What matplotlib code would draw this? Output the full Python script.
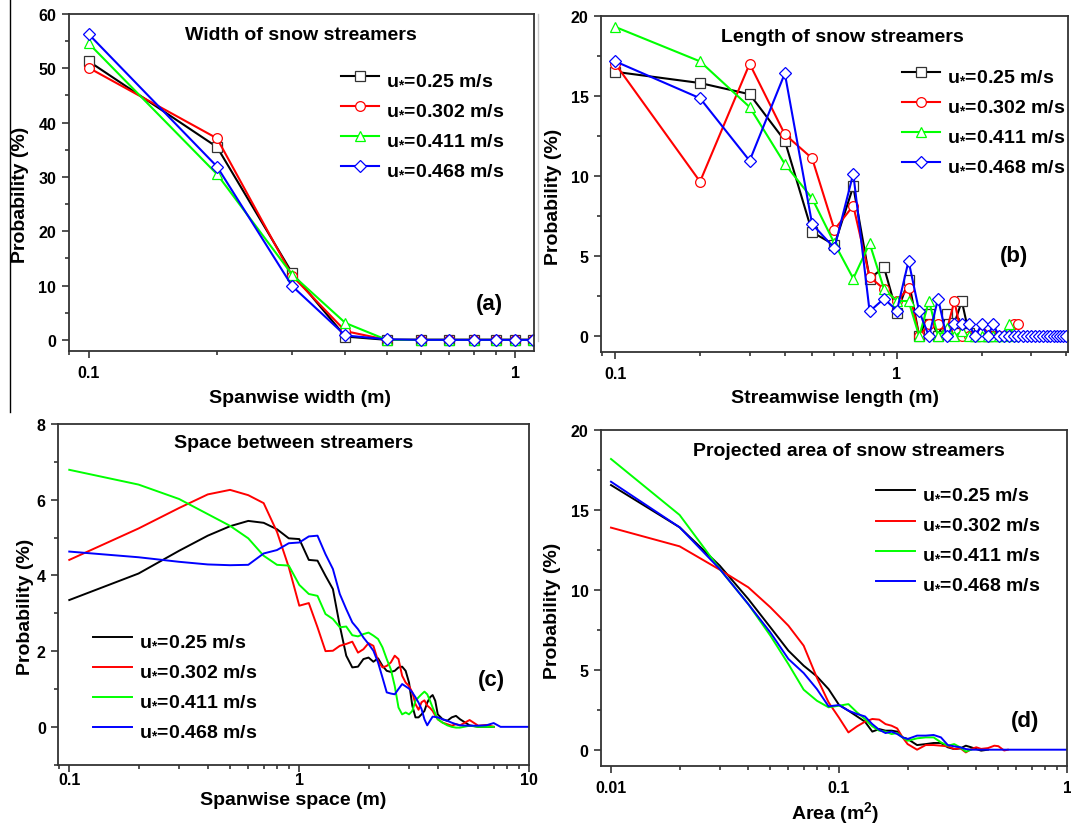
import numpy as np
import matplotlib
matplotlib.use('Agg')
import matplotlib.pyplot as plt
from matplotlib.ticker import LogLocator, NullFormatter, MultipleLocator
from matplotlib.lines import Line2D

plt.rcParams['font.family'] = ['Liberation Sans', 'DejaVu Sans']
plt.rcParams['font.weight'] = 'bold'
plt.rcParams['mathtext.fontset'] = 'custom'
plt.rcParams['mathtext.rm'] = 'Liberation Sans:bold'
plt.rcParams['mathtext.it'] = 'Liberation Sans:bold'
plt.rcParams['mathtext.bf'] = 'Liberation Sans:bold'

labels = ['u$_{*}$=0.25 m/s', 'u$_{*}$=0.302 m/s', 'u$_{*}$=0.411 m/s', 'u$_{*}$=0.468 m/s']
colors = ['#000000', '#ff0000', '#00ff00', '#0000ff']
edge_cols = ['#333333', '#ff0000', '#00ff00', '#0000ff']
markers = ['s', 'o', '^', 'D']

# (a) width of snow streamers
width_x = [0.1, 0.2, 0.3, 0.4, 0.5, 0.6, 0.7, 0.8, 0.9, 1.0, 1.1]
width_025 = [51.3, 35.5, 12.3, 0.6, 0, 0, 0, 0, 0, 0, 0]
width_0302 = [50.1, 37.1, 11.8, 1.6, 0, 0, 0, 0, 0, 0, 0]
width_0411 = [54.6, 30.5, 12.0, 3.1, 0, 0, 0, 0, 0, 0, 0]
width_0468 = [56.3, 31.9, 9.9, 0.8, 0.1, 0, 0, 0, 0, 0, 0]

# (b) length of snow streamers
length_x = [0.1, 0.2, 0.3, 0.4, 0.5, 0.6, 0.7, 0.8, 0.9, 1.0,
            1.1, 1.2, 1.3, 1.4, 1.5, 1.6, 1.7, 1.8, 1.9, 2.0,
            2.1, 2.2, 2.3, 2.4, 2.5, 2.6, 2.7, 2.8, 2.9, 3.0,
            3.1, 3.2, 3.3, 3.4, 3.5, 3.6, 3.7, 3.8, 3.9, 4.0]
length_025 = [16.5, 15.8, 15.1, 12.2, 6.5, 5.7, 9.35, 3.6, 4.3, 1.45,
              3.5, 0, 1.4, 0, 1.4, 0.8, 2.2, 0.2, 0, 0, 0, 0]
length_0302 = [17.0, 9.65, 17.0, 12.6, 11.1, 6.65, 8.15, 3.7, 2.95, 2.2,
               3.0, 0, 0.75, 0.75, 0.3, 2.2, 0, 0, 0, 0.2,
               0, 0, 0, 0, 0, 0.75, 0.75]
length_0411 = [19.3, 17.15, 14.3, 10.75, 8.6, 5.8, 3.6, 5.8, 2.95, 2.2,
               2.2, 0, 2.2, 0, 0.5, 0, 0.3, 0, 0, 0,
               0, 0, 0, 0, 0.75, 0]
length_0468 = [17.15, 14.85, 10.95, 16.4, 7.0, 5.5, 10.15, 1.55, 2.35, 1.6,
               4.7, 1.55, 0, 2.35, 0, 0.75, 0.75, 0.75, 0, 0.75,
               0, 0.75, 0, 0, 0, 0, 0, 0, 0, 0,
               0, 0, 0, 0, 0, 0, 0, 0, 0, 0]

# (c) space between streamers
space_x = [0.1, 0.2, 0.3, 0.4, 0.5, 0.6, 0.7, 0.8, 0.9, 1.0,
           1.1, 1.2, 1.3, 1.4, 1.5, 1.6, 1.7, 1.8, 1.9, 2.0,
           2.1, 2.2, 2.3, 2.4, 2.5, 2.6, 2.7, 2.8, 2.9, 3.0,
           3.1, 3.2, 3.3, 3.4, 3.5, 3.6, 3.7, 3.8, 3.9, 4.0,
           4.2, 4.4, 4.6, 4.8, 5.0, 5.5, 6.0, 6.5, 7.0, 7.5, 8.0, 9.0, 10.0]
space_025 = [3.35, 4.05, 4.65, 5.05, 5.3, 5.44, 5.39, 5.22, 4.98, 4.96,
             4.41, 4.39, 3.99, 3.64, 2.67, 1.88, 1.57, 1.59, 1.79, 1.83,
             1.72, 1.81, 1.61, 1.48, 1.45, 1.48, 1.57, 1.59, 1.48, 1.17,
             0.56, 0.25, 0.25, 0.33, 0.42, 0.64, 0.78, 0.84, 0.69, 0.33,
             0.2, 0.16, 0.25, 0.29, 0.2, 0.04, 0.0, 0.0, 0.0]
space_0302 = [4.41, 5.24, 5.78, 6.14, 6.26, 6.12, 5.91, 5.15, 4.22, 3.2,
              3.27, 2.63, 2.0, 2.01, 2.14, 2.19, 2.25, 1.96, 2.05, 2.21,
              2.14, 1.74, 1.57, 1.61, 1.70, 1.88, 1.79, 1.35, 1.17, 1.08,
              0.91, 0.6, 0.45, 0.65, 0.7, 0.56, 0.5, 0.42, 0.3, 0.2,
              0.11, 0.07, 0.03, 0.07, 0.04, 0.18, 0.03, 0.05, 0.0]
space_0411 = [6.79, 6.40, 6.02, 5.62, 5.31, 4.98, 4.52, 4.28, 4.26, 3.75,
              3.51, 3.46, 2.98, 2.85, 2.63, 2.65, 2.42, 2.39, 2.45, 2.49,
              2.41, 2.32, 2.10, 1.79, 1.52, 1.08, 0.51, 0.33, 0.38, 0.33,
              0.42, 0.69, 0.78, 0.86, 0.93, 0.86, 0.69, 0.51, 0.35, 0.2,
              0.11, 0.04, 0.0, -0.02, -0.02, 0.03, 0.0, 0.0, 0.0]
space_0468 = [4.63, 4.48, 4.36, 4.29, 4.27, 4.28, 4.58, 4.67, 4.85, 4.87,
              5.03, 5.05, 4.56, 4.17, 3.51, 3.11, 2.76, 2.58, 2.36, 2.19,
              2.01, 1.70, 1.30, 0.91, 0.88, 0.86, 1.0, 1.13, 1.07, 1.01,
              0.91, 0.78, 0.64, 0.47, 0.20, 0.04, 0.16, 0.27, 0.26, 0.25,
              0.2, 0.16, 0.11, 0.07, 0.04, 0.03, 0.03, 0.04, 0.1, 0.0, 0.0, 0.0, 0.0]

# (d) projected area of snow streamers
area_x = [0.01, 0.02, 0.03, 0.04, 0.05, 0.06, 0.07, 0.08, 0.09, 0.1,
          0.11, 0.12, 0.13, 0.14, 0.15, 0.16, 0.17, 0.18, 0.19, 0.2,
          0.22, 0.24, 0.26, 0.28, 0.3, 0.32, 0.34, 0.36, 0.38, 0.4,
          0.42, 0.45, 0.48, 0.5, 0.53, 0.55, 0.6, 0.7, 0.8, 0.9, 1.0]
area_025 = [16.54, 13.9, 11.5, 9.42, 7.65, 6.19, 5.25, 4.58, 3.79, 2.8,
            2.44, 2.08, 1.75, 1.13, 1.29, 1.19, 1.19, 1.13, 0.77, 0.67,
            0.29, 0.35, 0.42, 0.42, 0.15, 0.04, 0.08, 0.25, 0.15, 0.04,
            -0.06, 0.0]
area_0302 = [13.88, 12.71, 11.25, 10.15, 8.9, 7.75, 6.5, 4.5, 2.96, 2.0,
             1.08, 1.46, 1.75, 1.92, 1.88, 1.6, 1.5, 1.33, 0.77, 0.35,
             0.0, 0.29, 0.29, 0.25, 0.21, 0.04, 0.1, -0.17, 0.04, 0.15,
             0.05, 0.1, 0.25, 0.22, -0.05, 0.0]
area_0411 = [18.17, 14.67, 11.29, 9.1, 7.13, 5.35, 3.75, 3.06, 2.65, 2.75,
             2.85, 2.33, 1.92, 1.46, 1.19, 1.13, 0.98, 1.04, 0.77, 0.56,
             0.71, 0.77, 0.77, 0.46, 0.25, 0.35, 0.15, -0.12, 0.0]
area_0468 = [16.75, 13.9, 11.29, 9.1, 7.33, 5.67, 4.79, 3.79, 2.71, 2.79,
             2.44, 2.23, 2.08, 1.6, 1.25, 1.04, 1.13, 0.98, 0.77, 0.67,
             0.88, 0.88, 0.92, 0.77, 0.29, 0.21, 0.15, 0.04, 0.0, 0.0,
             0, 0, 0, 0, 0, 0, 0, 0, 0, 0, 0]

W, H = 1071, 828
fig = plt.figure(figsize=(W / 100, H / 100), dpi=100)


def px_axes(l, r, t, b):
    return fig.add_axes([l / W, 1 - b / H, (r - l) / W, (b - t) / H])


def style(ax, xlim, ylim, xt, xtl, ymaj, ymin, pad):
    ax.set_xscale('log')
    ax.set_xlim(*xlim)
    ax.set_ylim(*ylim)
    ax.set_xticks(xt, xtl)
    ax.xaxis.set_minor_locator(LogLocator(base=10, subs=np.arange(2, 10) * 1.0, numticks=30))
    ax.xaxis.set_minor_formatter(NullFormatter())
    ax.yaxis.set_major_locator(MultipleLocator(ymaj))
    ax.yaxis.set_minor_locator(MultipleLocator(ymin))
    for s in ax.spines.values():
        s.set_color('#333333')
        s.set_linewidth(1.3)
    ax.tick_params(which='both', direction='out', color='#333333', width=1.2,
                   labelsize=11.5)
    ax.tick_params(which='major', length=5)
    ax.tick_params(which='minor', length=3)
    ax.tick_params(axis='x', which='major', pad=pad)
    ax.tick_params(axis='y', which='major', pad=4)


def labels_text(ax, title, tpos, letter, lpos, xlabel, xlpos, ylpos):
    ax.text(tpos[0], tpos[1], title, transform=ax.transAxes, ha='center', va='center',
            fontsize=14, fontweight='bold')
    ax.text(lpos[0], lpos[1], letter, transform=ax.transAxes, ha='center', va='center',
            fontsize=16, fontweight='bold')
    ax.set_xlabel(xlabel, fontsize=14, fontweight='bold')
    ax.xaxis.set_label_coords(xlpos[0], xlpos[1])
    ax.xaxis.label.set_verticalalignment('center')
    ax.set_ylabel('Probability (%)', fontsize=14, fontweight='bold')
    ax.yaxis.set_label_coords(ylpos[0], ylpos[1])
    ax.yaxis.label.set_verticalalignment('center')


def legend(ax, anchor, handlelength):
    ax.legend(loc='center left', bbox_to_anchor=anchor, frameon=False, fontsize=14,
              handlelength=handlelength, handletextpad=0.35, labelspacing=0.64,
              borderpad=0, borderaxespad=0)


# (a)
ax = px_axes(68.7, 534, 15, 351.7)
for ys, c, ec, m, lab in zip([width_025, width_0302, width_0411, width_0468],
                             colors, edge_cols, markers, labels):
    ax.plot(width_x[:len(ys)], ys, color=c, lw=1.5, marker=m, ms=7 if m != 'D' else 6.5,
            mfc='white', mec=ec, mew=0.9, label=lab)
style(ax, (0.0898, 1.107), (-2, 60), [0.1, 1], ['0.1', '1'], 10, 5, 5)
labels_text(ax, 'Width of snow streamers', (0.498, 0.94), '(a)', (0.905, 0.139),
            'Spanwise width (m)', (0.498, -0.138), (-0.1036, 0.465))
legend(ax, (0.585, 0.676), 1.95)

# (b)
ax = px_axes(601, 1068, 16.7, 353.3)
for ys, c, ec, m, lab in zip([length_025, length_0302, length_0411, length_0468],
                             colors, edge_cols, markers, labels):
    ax.plot(length_x[:len(ys)], ys, color=c, lw=1.5, marker=m, ms=7 if m != 'D' else 6.5,
            mfc='white', mec=ec, mew=0.9, label=lab)
style(ax, (0.089, 4.05), (-1, 20), [0.1, 1], ['0.1', '1'], 5, 2.5, 5)
labels_text(ax, 'Length of snow streamers', (0.517, 0.939), '(b)', (0.885, 0.287),
            'Streamwise length (m)', (0.502, -0.134), (-0.101, 0.465))
legend(ax, (0.645, 0.693), 1.95)

# (c)
ax = px_axes(58.3, 529.3, 425, 765.7)
for ys, c, lab in zip([space_025, space_0302, space_0411, space_0468], colors, labels):
    ax.plot(space_x[:len(ys)], ys, color=c, lw=1.4, label=lab)
style(ax, (0.0896, 10), (-1, 8), [0.1, 1, 10], ['0.1', '1', '10'], 2, 1, 0.5)
labels_text(ax, 'Space between streamers', (0.5, 0.946), '(c)', (0.92, 0.2515),
            'Spanwise space (m)', (0.498, -0.103), (-0.069, 0.467))
legend(ax, (0.0737, 0.236), 2.0)

# (d)
ax = px_axes(601, 1067, 430.7, 766.7)
for ys, c, lab in zip([area_025, area_0302, area_0411, area_0468], colors, labels):
    ax.plot(area_x[:len(ys)], ys, color=c, lw=1.4, label=lab)
style(ax, (0.00904, 1), (-1, 20), [0.01, 0.1, 1], ['0.01', '0.1', '1'], 5, 2.5, 5)
labels_text(ax, 'Projected area of snow streamers', (0.531, 0.9375), '(d)', (0.909, 0.134),
            'Area (m$^{2}$)', (0.5015, -0.139), (-0.105, 0.464))
legend(ax, (0.59, 0.679), 2.0)

# scan edges visible in the source figure
fig.add_artist(Line2D([10.3 / W, 10.3 / W], [1, 1 - 413 / H], color='black', lw=1))
fig.add_artist(Line2D([537.7 / W, 537.7 / W], [1 - 15 / H, 1 - 342 / H], color='#c8c8c8', lw=1))

fig.savefig('out.png', dpi=100)
